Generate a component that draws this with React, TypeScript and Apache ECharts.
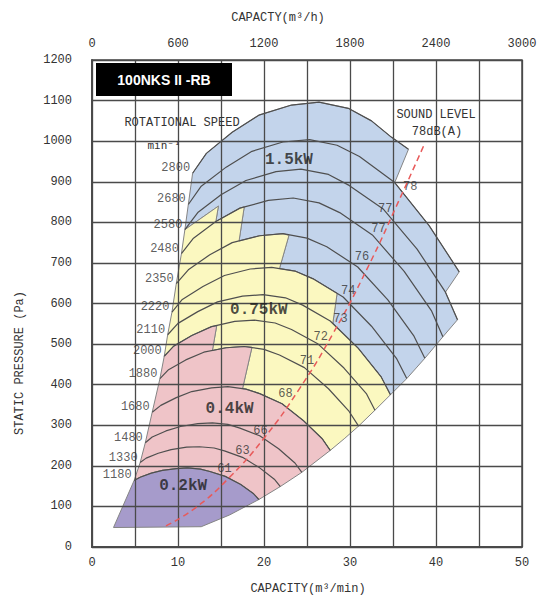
import React, { useEffect, useRef } from "react";
import * as echarts from "echarts";

// Rotational speeds (min^-1), one curve each, top to bottom
const SPEEDS = [2800, 2680, 2580, 2480, 2350, 2220, 2110, 2000, 1880, 1680, 1480, 1330, 1180];

// Speed curves: [capacity m3/min, static pressure Pa]
const C2800 = [[11.7,921],[13.3,970],[16.3,1022],[19.4,1064],[23.2,1089],[26.4,1096],[29.8,1081],[32.5,1050],[34.8,1010],[36.8,980]];
const C2680 = [[11.2,844],[12.7,889],[15.6,936],[18.6,975],[22.2,998],[25.3,1004],[28.5,990],[31.1,962],[35.2,898],[39.2,792],[42.7,678]];
const C2580 = [[10.8,782],[12.3,824],[15.0,868],[17.9,903],[21.4,925],[24.3,931],[27.5,918],[29.9,891],[33.9,832],[37.8,734],[41.1,628],[42.5,560]];
const C2480 = [[10.4,723],[11.8,761],[14.4,802],[17.2,835],[20.5,854],[23.4,860],[26.4,848],[28.8,824],[32.6,769],[36.3,679],[39.5,581],[40.8,518]];
const C2350 = [[9.8,649],[11.2,683],[13.7,720],[16.3,750],[19.5,767],[22.2,772],[25.0,761],[27.3,740],[30.9,690],[34.4,609],[37.4,521],[38.7,465]];
const C2220 = [[9.3,579],[10.5,610],[12.9,642],[15.4,669],[18.4,685],[20.9,689],[23.6,680],[25.8,660],[29.2,616],[32.5,544],[35.4,465],[36.6,415]];
const C2110 = [[8.8,523],[10.0,551],[12.3,580],[14.6,604],[17.5,618],[19.9,622],[22.5,614],[24.5,596],[27.7,557],[30.9,491],[33.6,420],[34.7,375]];
const C2000 = [[8.4,470],[9.5,495],[11.6,521],[13.9,543],[16.6,556],[18.9,559],[21.3,552],[23.2,536],[26.3,500],[29.3,441],[31.9,378],[32.9,337]];
const C1880 = [[7.9,415],[8.9,437],[10.9,461],[13.0,480],[15.6,491],[17.7,494],[20.0,487],[21.8,473],[24.7,442],[27.5,390],[29.9,334],[31.0,298]];
const C1680 = [[7.0,332],[8.0,349],[9.8,368],[11.6,383],[13.9,392],[15.8,395],[17.9,389],[19.5,378],[22.1,353],[24.6,311],[26.8,266],[27.7,238]];
const C1480 = [[6.2,257],[7.0,271],[8.6,286],[10.3,297],[12.3,304],[14.0,306],[15.8,302],[17.2,293],[19.5,274],[21.7,242],[23.6,207],[24.4,184]];
const C1330 = [[5.6,208],[6.3,219],[7.7,231],[9.2,240],[11.0,246],[12.5,247],[14.2,244],[15.4,237],[17.5,221],[19.5,195],[21.2,167],[21.9,149]];
const C1180 = [[4.9,164],[5.6,172],[6.9,182],[8.2,189],[9.8,193],[11.1,195],[12.6,192],[13.7,186],[15.5,174],[17.3,154],[18.8,131],[19.4,117]];
const CURVES = [C2800, C2680, C2580, C2480, C2350, C2220, C2110, C2000, C1880, C1680, C1480, C1330, C1180];

// Motor power zones (boundaries)
const ZONE_15KW = [[11.7,921],[13.3,970],[16.3,1022],[19.4,1064],[23.2,1089],[26.4,1096],[29.8,1081],[32.5,1050],[34.8,1010],[36.8,980],
  [35.2,898],[39.2,792],[42.7,678],[41.1,628],[42.5,560],[40.8,518],[38.7,465],[36.6,415],[34.7,375],
  [33.6,420],[30.9,491],[28.0,551],[28.5,625],[25.8,660],[23.6,680],[21.8,686],[22.9,768],[22.2,772],[19.5,767],[17.1,754],
  [17.7,838],[17.2,835],[14.4,802],[14.7,840],[10.8,782],[11.2,844]];
const ZONE_075KW = [[8.4,470],[8.8,523],[9.3,579],[9.8,649],[10.4,723],[10.8,782],[14.7,840],[14.4,802],[17.2,835],[17.7,838],
  [17.1,754],[19.5,767],[22.2,772],[22.9,768],[21.8,686],[23.6,680],[25.8,660],[28.5,625],[28.0,551],[30.9,491],[33.6,420],[34.7,375],
  [32.9,337],[31.0,298],[29.4,268],[27.7,238],[26.8,266],[24.6,311],[22.1,353],[19.5,378],[17.9,389],[17.5,390],
  [18.6,492],[17.7,494],[15.6,491],[14.0,484],[14.5,545],[13.9,543],[11.6,521],[9.5,495]];
const ZONE_04KW = [[4.9,164],[5.6,208],[6.2,257],[7.0,332],[7.9,415],[8.4,470],[9.5,495],[11.6,521],[13.9,543],[14.5,545],
  [14.0,484],[15.6,491],[17.7,494],[18.6,492],[17.5,390],[17.9,389],[19.5,378],[22.1,353],[24.6,311],[26.8,266],[27.7,238],
  [24.4,184],[21.9,149],[19.4,117],[18.8,131],[17.3,154],[15.5,174],[13.7,186],[12.6,192],[11.1,195],[9.8,193],[8.2,189],[6.9,182],[5.6,172]];
const ZONE_02KW = [[4.9,164],[5.6,172],[6.9,182],[8.2,189],[9.8,193],[11.1,195],[12.6,192],[13.7,186],[15.5,174],[17.3,154],[18.8,131],[19.4,117],
  [16.0,79],[12.7,50],[2.5,48]];

// Sound level line and its labels
const SOUND_LINE = [[8.6,52],[12,96],[16,172],[20,268],[24,386],[28,525],[32,686],[36,868],[38.7,995]];
const SOUND_LABELS: [number, number, string][] = [
  [37.0,887,"78"],[34.1,834,"77"],[33.3,784,"77"],[31.4,714,"76"],[29.8,632,"74"],[28.9,562,"73"],
  [26.6,517,"72"],[25.0,459,"71"],[22.5,377,"68"],[19.6,286,"66"],[17.5,237,"63"],[15.4,192,"61"]];
const POWER_LABELS: [number, number, string][] = [
  [22.9,953,"1.5kW"],[19.4,583,"0.75kW"],[16.0,340,"0.4kW"],[10.6,151,"0.2kW"]];

const MONO = '"Liberation Mono", "DejaVu Sans Mono", monospace';

function zone(pts: number[][], fill: string) {
  return {
    type: "custom",
    coordinateSystem: "cartesian2d",
    xAxisIndex: 0,
    yAxisIndex: 0,
    z: 1,
    silent: true,
    data: [[0, 0]],
    renderItem: (_p: any, api: any) => ({
      type: "polygon",
      shape: { points: pts.map((p) => api.coord(p)) },
      style: { fill, stroke: "#858585", lineWidth: 1 },
    }),
  };
}

function txt(x: number, y: number, text: string, font: string, extra: any = {}) {
  return {
    type: "text",
    x,
    y,
    z: 20,
    ...extra,
    style: {
      text,
      font,
      fill: extra.fill || "#333",
      align: "center",
      verticalAlign: "middle",
      textAlign: "center",
      textVerticalAlign: "middle",
    },
  };
}

export default function App() {
  const ref = useRef<HTMLDivElement>(null);
  useEffect(() => {
    const chart = echarts.init(ref.current!, null, { renderer: "svg" });
    const axisLabelStyle = { color: "#333", fontSize: 12, fontFamily: MONO };
    const gridLine = { color: "#4a4a4a", width: 1.3 };
    const plain = (v: number) => String(v);
    const option: any = {
      animation: false,
      backgroundColor: "#fff",
      grid: { left: 92, right: 19, top: 60, bottom: 53, show: true, borderColor: "#4a4a4a", borderWidth: 1.5 },
      xAxis: [
        {
          type: "value", min: 0, max: 50, interval: 5, position: "bottom", z: 3,
          axisLabel: { ...axisLabelStyle, margin: 10, formatter: (v: number) => (v % 10 === 0 ? String(v) : "") },
          axisTick: { show: false },
          axisLine: { show: true, lineStyle: { color: "#4a4a4a", width: 1.5 } },
          splitLine: { show: true, lineStyle: gridLine },
        },
        {
          type: "value", min: 0, max: 3000, interval: 600, position: "top", z: 3,
          axisLabel: { ...axisLabelStyle, margin: 10, formatter: plain },
          axisTick: { show: false },
          axisLine: { show: true, lineStyle: { color: "#4a4a4a", width: 1.5 } },
          splitLine: { show: false },
        },
      ],
      yAxis: [
        {
          type: "value", min: 0, max: 1200, interval: 100, position: "left", z: 3,
          axisLabel: { ...axisLabelStyle, margin: 20, formatter: plain },
          axisTick: { show: false },
          axisLine: { show: true, lineStyle: { color: "#4a4a4a", width: 1.5 } },
          splitLine: { show: true, lineStyle: gridLine },
        },
        {
          type: "value", min: 0, max: 1200, interval: 100, position: "right", z: 3,
          axisLabel: { show: false },
          axisTick: { show: false },
          axisLine: { show: true, lineStyle: { color: "#4a4a4a", width: 1.5 } },
          splitLine: { show: false },
        },
      ],
      series: [
        zone(ZONE_15KW, "#c3d4eb"),
        zone(ZONE_075KW, "#fbf8c0"),
        zone(ZONE_04KW, "#efc4c8"),
        zone(ZONE_02KW, "#a69bcb"),
        ...CURVES.map((c) => ({
          type: "line",
          data: c,
          showSymbol: false,
          symbol: "none",
          silent: true,
          z: 4,
          lineStyle: { color: "#4f4f4f", width: 1.2 },
        })),
        {
          type: "line",
          data: SOUND_LINE,
          showSymbol: false,
          symbol: "none",
          smooth: true,
          silent: true,
          z: 5,
          lineStyle: { color: "#e85a5a", width: 1.5, type: [6, 4] },
        },
        {
          type: "scatter",
          silent: true,
          z: 6,
          symbolSize: 1,
          itemStyle: { color: "rgba(0,0,0,0)" },
          data: SPEEDS.map((s, i) => ({ value: CURVES[i][0], name: String(s) })),
          label: { show: true, position: "left", distance: 2, offset: [0, -5], formatter: "{b}", color: "#333", fontSize: 12, fontFamily: MONO },
        },
        {
          type: "scatter",
          silent: true,
          z: 6,
          symbolSize: 1,
          itemStyle: { color: "rgba(0,0,0,0)" },
          data: SOUND_LABELS.map(([x, y, t]) => ({ value: [x, y], name: t })),
          label: { show: true, position: "inside", formatter: "{b}", color: "#333", fontSize: 12, fontFamily: MONO },
        },
        {
          type: "scatter",
          silent: true,
          z: 6,
          symbolSize: 1,
          itemStyle: { color: "rgba(0,0,0,0)" },
          data: POWER_LABELS.map(([x, y, t]) => ({ value: [x, y], name: t })),
          label: { show: true, position: "inside", formatter: "{b}", color: "#1e1e1e", fontSize: 16, fontWeight: "bold", fontFamily: MONO },
        },
      ],
      graphic: [
        { type: "rect", z: 19, shape: { x: 96, y: 63, width: 136, height: 33 }, style: { fill: "#000" } },
        txt(164, 80, "100NKS II -RB", 'bold 14px "Liberation Sans", Arial, sans-serif', { fill: "#fff" }),
        txt(182, 123, "ROTATIONAL SPEED", `12px ${MONO}`),
        txt(164, 145, "min⁻¹", '11px "DejaVu Sans Mono", monospace'),
        txt(436, 115, "SOUND LEVEL", `12px ${MONO}`),
        txt(437, 132, "78dB(A)", `12px ${MONO}`),
        txt(278, 18, "CAPACTY(m³/h)", `12px ${MONO}`),
        txt(308, 589, "CAPACITY(m³/min)", `12px ${MONO}`),
        txt(20, 363, "STATIC PRESSURE (Pa)", `12px ${MONO}`, { rotation: Math.PI / 2 }),
      ],
    };
    chart.setOption(option);
    return () => chart.dispose();
  }, []);
  return (
    <div
      ref={ref}
      style={{ position: "absolute", left: 0, top: 0, width: 541, height: 600, background: "#fff" }}
    />
  );
}
